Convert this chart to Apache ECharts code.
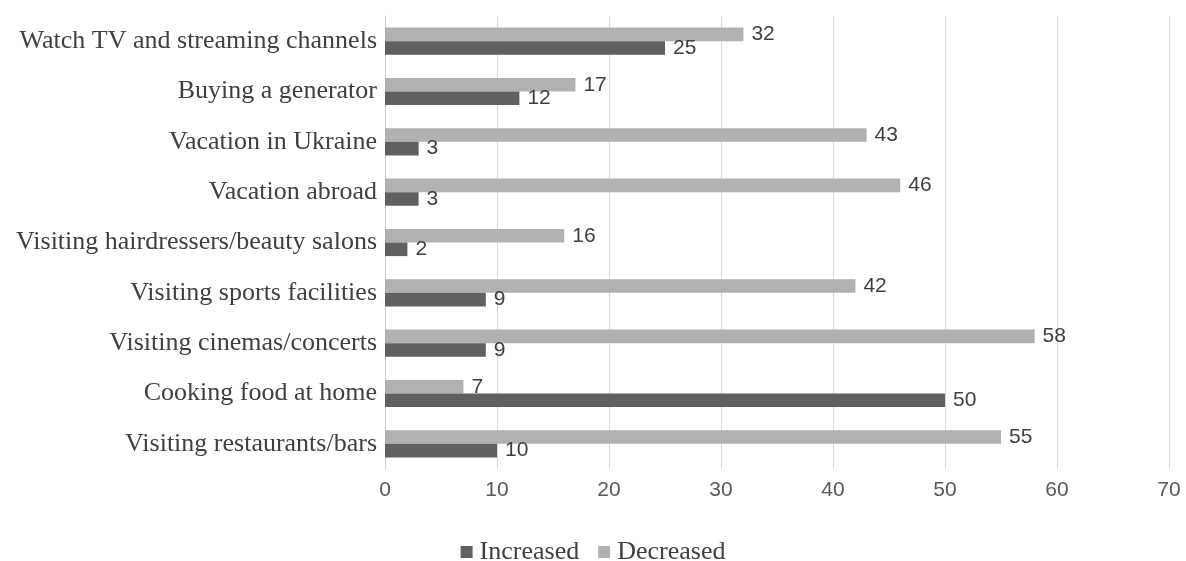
<!DOCTYPE html>
<html>
<head>
<meta charset="utf-8">
<script src="https://cdn.jsdelivr.net/npm/echarts@6/dist/echarts.min.js"></script>
<style>
  html, body { margin: 0; padding: 0; background: #fff; }
  #chart { width: 1186px; height: 561px; }
</style>
</head>
<body>
<div id="chart"></div>
<script>
// Categories listed bottom to top (category axis runs upward)
const categories = [
  'Visiting restaurants/bars',
  'Cooking food at home',
  'Visiting cinemas/concerts',
  'Visiting sports facilities',
  'Visiting hairdressers/beauty salons',
  'Vacation abroad',
  'Vacation in Ukraine',
  'Buying a generator',
  'Watch TV and streaming channels'
];
const increased = [10, 50, 9, 9, 2, 3, 3, 12, 25];
const decreased = [55, 7, 58, 42, 16, 46, 43, 17, 32];
const xTicks = { min: 0, max: 70, interval: 10 };

const serif = '"Liberation Serif", "DejaVu Serif", serif';
const sans = '"Liberation Sans", "DejaVu Sans", sans-serif';

const chart = echarts.init(document.getElementById('chart'), null, { renderer: 'canvas' });

const labelStyle = {
  show: true,
  position: 'right',
  distance: 8,
  fontFamily: sans,
  fontSize: 21,
  color: '#404040'
};

chart.setOption({
  animation: false,
  backgroundColor: '#ffffff',
  grid: { left: 385, right: 17, top: 16, bottom: 92, containLabel: false },
  legend: {
    top: 534,
    left: 'center',
    itemWidth: 12,
    itemHeight: 12,
    itemGap: 19,
    icon: 'rect',
    textStyle: { fontFamily: serif, fontSize: 26, color: '#404040', padding: [0, 0, 0, 2] },
    data: ['Increased', 'Decreased']
  },
  xAxis: {
    type: 'value',
    min: xTicks.min,
    max: xTicks.max,
    interval: xTicks.interval,
    axisLine: { show: false },
    axisTick: { show: false },
    axisLabel: { fontFamily: sans, fontSize: 21, color: '#595959', margin: 11 },
    splitLine: { lineStyle: { color: '#d9d9d9', width: 1 } }
  },
  yAxis: {
    type: 'category',
    data: categories,
    axisLine: { show: true, lineStyle: { color: '#d0d0d0', width: 1 } },
    axisTick: { show: false },
    axisLabel: { fontFamily: serif, fontSize: 26, color: '#404040', margin: 8 }
  },
  // Decreased is listed first so it sits above Increased within each category
  series: [
    {
      name: 'Decreased',
      type: 'bar',
      data: decreased,
      barGap: '0%',
      barCategoryGap: '46%',
      itemStyle: { color: '#b1b1b1' },
      label: labelStyle
    },
    {
      name: 'Increased',
      type: 'bar',
      data: increased,
      barGap: '0%',
      barCategoryGap: '46%',
      itemStyle: { color: '#606060' },
      label: labelStyle
    }
  ]
});
</script>
</body>
</html>
